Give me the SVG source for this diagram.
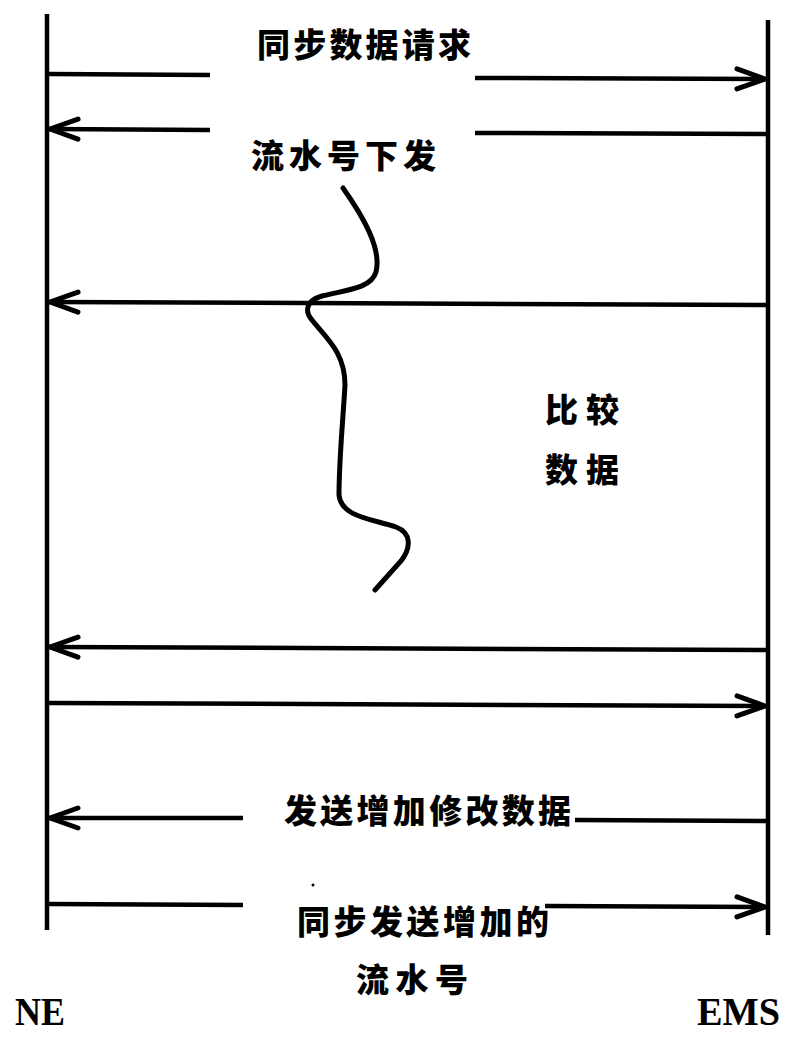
<svg xmlns="http://www.w3.org/2000/svg" width="800" height="1042" viewBox="0 0 800 1042">
<style>
.ln{stroke:#000;stroke-width:4.5;fill:none;stroke-linecap:butt}
.cj{font-family:"Noto Sans CJK SC","Noto Sans",sans-serif;font-weight:900;font-size:33px;fill:#000}
.lb{font-family:"Liberation Serif",serif;font-weight:bold;font-size:40px;fill:#000}
</style>
<defs>
<marker id="ah" viewBox="0 0 34 26" refX="32" refY="13" markerWidth="34" markerHeight="26" markerUnits="userSpaceOnUse" orient="auto">
<path d="M3,3 L31,13 L3,23" fill="none" stroke="#000" stroke-width="5" stroke-linecap="round" stroke-linejoin="miter"/>
</marker>
</defs>
<rect width="800" height="1042" fill="#fff"/>
<g id="NE">
<line class="ln" x1="47" y1="14" x2="47" y2="930"/>
<text class="lb" x="15" y="1025" textLength="50" lengthAdjust="spacingAndGlyphs">NE</text>
</g>
<g id="EMS">
<line class="ln" x1="768" y1="20" x2="768" y2="935"/>
<text class="lb" x="697" y="1025" textLength="83" lengthAdjust="spacingAndGlyphs">EMS</text>
</g>
<g id="connectors">
<line class="ln" x1="49" y1="74" x2="210" y2="75"/>
<line class="ln" x1="475" y1="78" x2="766" y2="79" marker-end="url(#ah)"/>
<line class="ln" x1="766" y1="134" x2="475" y2="133"/>
<line class="ln" x1="210" y1="130" x2="49" y2="129" marker-end="url(#ah)"/>
<line class="ln" x1="766" y1="305" x2="49" y2="302" marker-end="url(#ah)"/>
<line class="ln" x1="766" y1="650" x2="49" y2="647" marker-end="url(#ah)"/>
<line class="ln" x1="49" y1="703" x2="766" y2="706" marker-end="url(#ah)"/>
<line class="ln" x1="766" y1="821" x2="575" y2="820"/>
<line class="ln" x1="243" y1="818" x2="49" y2="818" marker-end="url(#ah)"/>
<line class="ln" x1="49" y1="904" x2="243" y2="905"/>
<line class="ln" x1="545" y1="906" x2="766" y2="907" marker-end="url(#ah)"/>
<path d="M343,188 C362,215 382,248 376,272 C371,289 345,290 322,296 C305,301 305,312 312,320 C326,338 345,352 345,385 C343,420 339,460 339,495 C341,517 372,519 396,527 C412,533 411,548 401,561 L375,590" fill="none" stroke="#000" stroke-width="5" stroke-linecap="round"/>
<circle cx="313" cy="885" r="1.5" fill="#000"/>
</g>
<g id="labels">
<text class="cj" x="257" y="57" textLength="214" lengthAdjust="spacing">同步数据请求</text>
<text class="cj" x="251" y="168" textLength="185" lengthAdjust="spacing">流水号下发</text>
<text class="cj" x="545" y="422" textLength="74" lengthAdjust="spacing">比较</text>
<text class="cj" x="545" y="482" textLength="74" lengthAdjust="spacing">数据</text>
<text class="cj" x="284" y="823" textLength="287" lengthAdjust="spacing">发送增加修改数据</text>
<text class="cj" x="297" y="934" textLength="252" lengthAdjust="spacing">同步发送增加的</text>
<text class="cj" x="356" y="992" textLength="112" lengthAdjust="spacing">流水号</text>
</g>
</svg>
